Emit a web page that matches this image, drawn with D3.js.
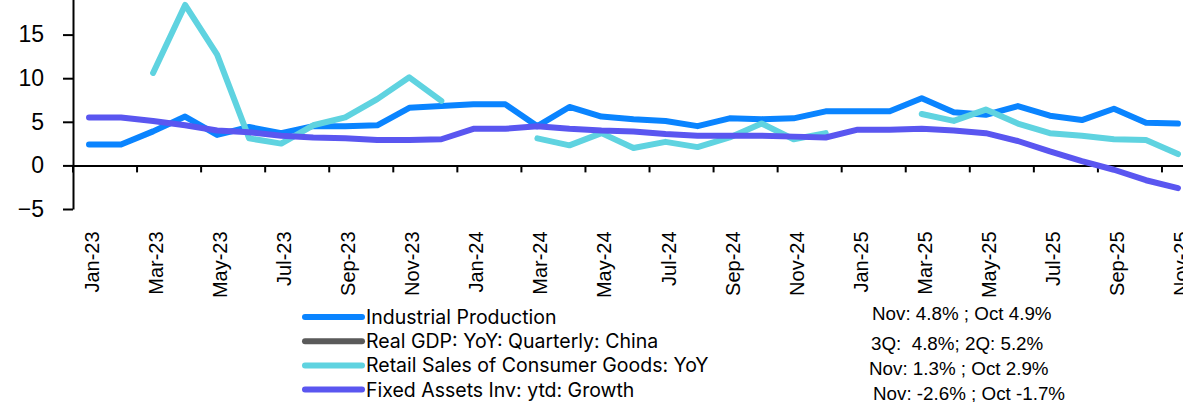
<!DOCTYPE html>
<meta charset="utf-8">
<title>China activity indicators</title>
<style>
  body { margin: 0; background: #fff; }
  .axis path, .axis line { stroke: #000; stroke-width: 2; }
  .axis text { font-family: "Liberation Sans", Arial, sans-serif; fill: #000; }
  .series { fill: none; stroke-width: 6; stroke-linecap: round; stroke-linejoin: round; }
  .legend text { font-family: Inter, sans-serif; font-size: 19.5px; fill: #000; }
  .note { font-family: "Liberation Sans", Arial, sans-serif; font-size: 18.8px; fill: #000; white-space: pre; }
</style>
<body>
<script src="https://cdn.jsdelivr.net/npm/d3@7"></script>
<script>
  // monthly categories
  var months = ["Jan-23","Feb-23","Mar-23","Apr-23","May-23","Jun-23","Jul-23","Aug-23","Sep-23","Oct-23","Nov-23","Dec-23",
                "Jan-24","Feb-24","Mar-24","Apr-24","May-24","Jun-24","Jul-24","Aug-24","Sep-24","Oct-24","Nov-24","Dec-24",
                "Jan-25","Feb-25","Mar-25","Apr-25","May-25","Jun-25","Jul-25","Aug-25","Sep-25","Oct-25","Nov-25"];

  // series values (%)
  var industrial = [2.4,2.4,3.9,5.6,3.5,4.4,3.7,4.5,4.5,4.6,6.6,6.8,
                    7.0,7.0,4.5,6.7,5.6,5.3,5.1,4.5,5.4,5.3,5.4,6.2,
                    6.2,6.2,7.7,6.1,5.8,6.8,5.7,5.2,6.5,4.9,4.8];
  var gdp = [];  // listed in legend, not drawn in the plot
  var retail = [null,null,10.6,18.4,12.7,3.1,2.5,4.6,5.5,7.6,10.1,7.4,
                null,null,3.1,2.3,3.7,2.0,2.7,2.1,3.2,4.8,3.0,3.7,
                null,null,5.9,5.1,6.4,4.8,3.7,3.4,3.0,2.9,1.3];
  var fai = [5.5,5.5,5.1,4.6,4.0,3.8,3.4,3.2,3.1,2.9,2.9,3.0,
             4.2,4.2,4.5,4.2,4.0,3.9,3.6,3.4,3.4,3.4,3.3,3.2,
             4.1,4.1,4.2,4.0,3.7,2.8,1.6,0.5,-0.5,-1.7,-2.6];

  var yTicks = [-5, 0, 5, 10, 15, 20];

  var seriesNames = ["Industrial Production", "Real GDP: YoY: Quarterly: China",
                     "Retail Sales of Consumer Goods: YoY", "Fixed Assets Inv: ytd: Growth"];
  var seriesColors = ["#0a84ff", "#5a5a5a", "#5fd3e0", "#5a56f0"];
  var notes = ["Nov: 4.8% ; Oct 4.9%", "3Q:  4.8%; 2Q: 5.2%", "Nov: 1.3% ; Oct 2.9%", "Nov: -2.6% ; Oct -1.7%"];

  var series = [industrial, gdp, retail, fai];

  var width = 1183, height = 402;

  var svg = d3.select("body").append("svg")
      .attr("width", width)
      .attr("height", height);

  var x = d3.scaleBand().domain(months).range([73, 1194]);
  var y = d3.scaleLinear().domain([-5, 20]).range([209, -9]);

  // y axis
  svg.append("g")
      .attr("class", "axis")
      .attr("transform", "translate(73,0)")
      .call(d3.axisLeft(y).tickValues(yTicks).tickSize(10).tickSizeOuter(0).tickPadding(19))
      .selectAll("text")
      .style("font-size", "23px");

  // x axis on the zero line, ticks at band edges every two months
  var xAxis = svg.append("g")
      .attr("class", "axis")
      .attr("transform", "translate(0," + y(0) + ")")
      .call(d3.axisBottom(x)
        .tickValues(months.filter(function(d, i) { return i % 2 === 0; }))
        .tickSize(7).tickSizeOuter(0));

  xAxis.selectAll(".tick line")
      .attr("x1", -x.bandwidth() / 2)
      .attr("x2", -x.bandwidth() / 2);

  xAxis.selectAll(".tick text")
      .style("font-size", "20px")
      .attr("text-anchor", "end")
      .attr("transform", "rotate(-90)")
      .attr("x", -66)
      .attr("y", 0)
      .attr("dy", "0.5em");

  // lines
  var line = d3.line()
      .defined(function(d) { return d != null; })
      .x(function(d, i) { return x(months[i]) + x.bandwidth() / 2; })
      .y(function(d) { return y(d); });

  svg.append("g").selectAll("path")
      .data(series)
      .enter().append("path")
      .attr("class", "series")
      .attr("stroke", function(d, i) { return seriesColors[i]; })
      .attr("d", line);

  // legend
  var legend = svg.append("g").attr("class", "legend")
      .selectAll("g")
      .data(seriesNames)
      .enter().append("g")
      .attr("transform", function(d, i) { return "translate(0," + (317 + i * 24.2) + ")"; });

  legend.append("line")
      .attr("x1", 305).attr("x2", 362)
      .attr("stroke", function(d, i) { return seriesColors[i]; })
      .attr("stroke-width", 6)
      .attr("stroke-linecap", "round");

  legend.append("text")
      .attr("x", 366)
      .attr("y", 7)
      .text(function(d) { return d; });

  // latest readings
  var noteX = [872, 871, 869, 873], noteY = [320, 350, 375, 400];
  svg.append("g").selectAll("text")
      .data(notes)
      .enter().append("text")
      .attr("class", "note")
      .attr("x", function(d, i) { return noteX[i]; })
      .attr("y", function(d, i) { return noteY[i]; })
      .text(function(d) { return d; });
</script>
</body>
